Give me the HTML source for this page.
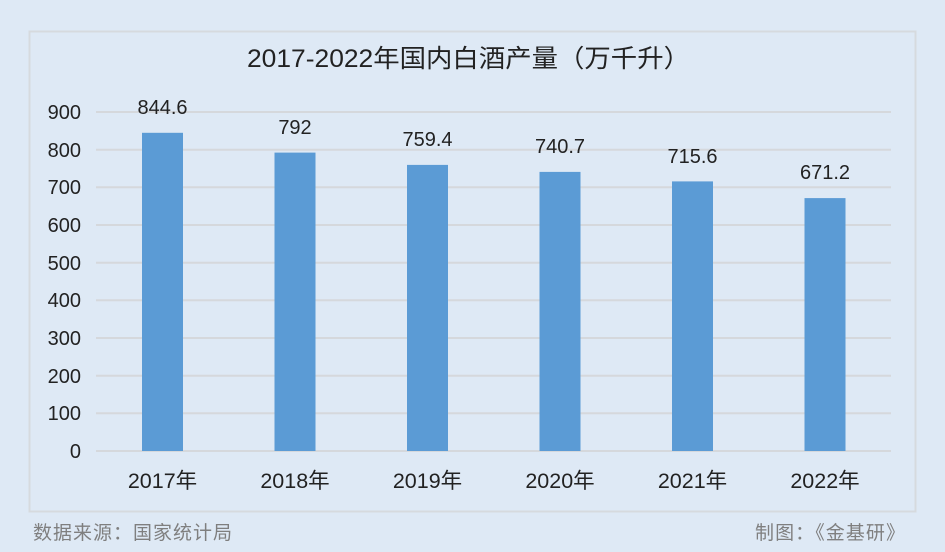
<!DOCTYPE html><html><head><meta charset="utf-8"><style>
body{margin:0;width:945px;height:552px;background:#dee9f5;overflow:hidden;font-family:"Liberation Sans","Noto Sans CJK SC",sans-serif}
</style></head><body>
<svg width="945" height="552" xmlns="http://www.w3.org/2000/svg" style="position:absolute;left:0;top:0">
<rect x="29.5" y="31.5" width="886" height="480" fill="none" stroke="#d6dade" stroke-width="2"/>
<text x="247" y="67" textLength="443" lengthAdjust="spacingAndGlyphs" font-size="25" fill="#222" font-family="Liberation Sans, Noto Sans CJK SC, sans-serif">2017-2022年国内白酒产量（万千升）</text>
<g stroke="#d5d8dc" stroke-width="2">
<line x1="96" x2="891" y1="112" y2="112"/><line x1="96" x2="891" y1="149.7" y2="149.7"/><line x1="96" x2="891" y1="187.3" y2="187.3"/><line x1="96" x2="891" y1="225" y2="225"/><line x1="96" x2="891" y1="262.7" y2="262.7"/><line x1="96" x2="891" y1="300.3" y2="300.3"/><line x1="96" x2="891" y1="338" y2="338"/><line x1="96" x2="891" y1="375.7" y2="375.7"/><line x1="96" x2="891" y1="413.3" y2="413.3"/><line x1="96" x2="891" y1="451" y2="451"/>
</g>
<g font-size="20" fill="#222" text-anchor="end">
<text x="81" y="119">900</text><text x="81" y="157">800</text><text x="81" y="194">700</text><text x="81" y="232">600</text><text x="81" y="270">500</text><text x="81" y="307">400</text><text x="81" y="345">300</text><text x="81" y="383">200</text><text x="81" y="420">100</text><text x="81" y="458">0</text>
</g>
<g fill="#5b9bd5">
<rect x="142" y="132.8" width="41" height="318.2"/>
<rect x="274.5" y="152.6" width="41" height="298.4"/>
<rect x="407" y="164.9" width="41" height="286.1"/>
<rect x="539.5" y="171.9" width="41" height="279.1"/>
<rect x="672" y="181.4" width="41" height="269.6"/>
<rect x="804.5" y="198.1" width="41" height="252.9"/>
</g>
<g font-size="20" fill="#222" text-anchor="middle">
<text x="162.5" y="114">844.6</text><text x="295" y="134">792</text><text x="427.5" y="146">759.4</text><text x="560" y="153">740.7</text><text x="692.5" y="163">715.6</text><text x="825" y="179">671.2</text>
</g>
<g font-size="21.5" fill="#222" text-anchor="middle">
<text x="162.5" y="488">2017年</text><text x="295" y="488">2018年</text><text x="427.5" y="488">2019年</text><text x="560" y="488">2020年</text><text x="692.5" y="488">2021年</text><text x="825" y="488">2022年</text>
</g>
<text x="33" y="539" font-size="19" fill="#7f7f7f" textLength="199" lengthAdjust="spacing">数据来源：国家统计局</text>
<text x="755" y="539" font-size="19" fill="#7f7f7f" textLength="150" lengthAdjust="spacing">制图：《金基研》</text>
</svg></body></html>
